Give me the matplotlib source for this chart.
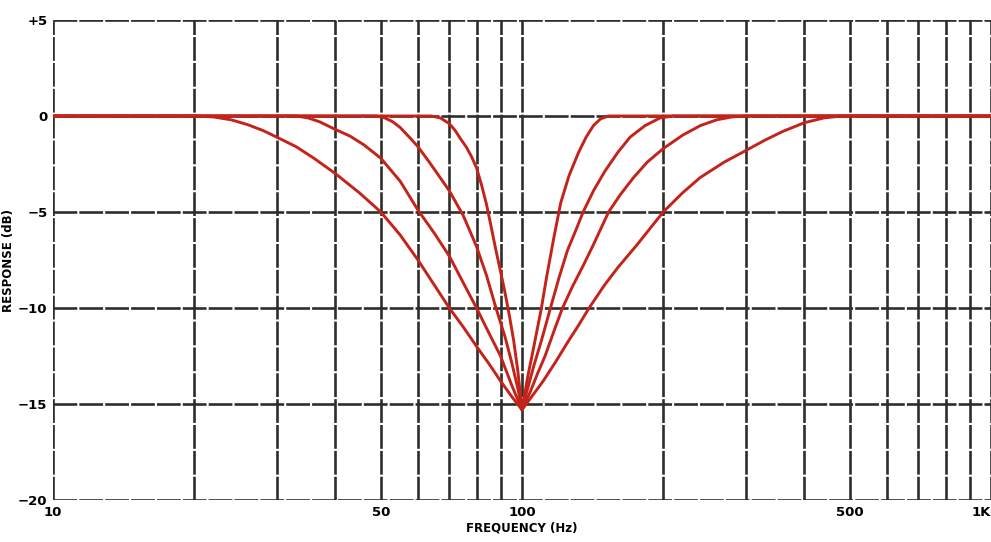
import numpy as np
import matplotlib
matplotlib.use('Agg')
import matplotlib.pyplot as plt
from matplotlib.ticker import FixedLocator, NullFormatter

# -- data (frequency in Hz, response in dB) -- #
# widest notch
f_A = [10, 20, 22, 24, 26, 28, 30, 33, 36, 40, 45, 50, 55, 60, 65, 70, 75, 80, 85, 90, 95, 100,
       105, 111, 118, 125, 132, 139, 150, 160, 176, 200, 220, 240, 270, 300, 330, 360, 400, 440, 480, 1000]
dB_A = [0, 0, -0.05, -0.2, -0.45, -0.75, -1.1, -1.6, -2.2, -3.0, -4.0, -5.0, -6.2, -7.5, -8.8, -10.0,
        -11.0, -12.0, -12.9, -13.8, -14.6, -15.3,
        -14.6, -13.8, -12.8, -11.8, -10.9, -10.0, -8.8, -7.9, -6.7, -5.0, -4.0, -3.2, -2.4, -1.8,
        -1.25, -0.8, -0.35, -0.1, 0, 0]

f_B = [10, 33, 35, 37, 40, 43, 46, 50, 55, 60, 65, 70, 75, 80, 85, 90, 95, 100,
       104, 108, 112, 117, 122, 128, 135, 142, 153, 162, 173, 185, 200, 220, 240, 260, 280, 300, 1000]
dB_B = [0, 0, -0.1, -0.3, -0.7, -1.05, -1.5, -2.2, -3.4, -4.9, -6.1, -7.3, -8.7, -10.0, -11.3, -12.5,
        -14.0, -15.3,
        -14.4, -13.4, -12.5, -11.2, -10.0, -8.9, -7.8, -6.7, -5.0, -4.1, -3.2, -2.4, -1.7, -1.0, -0.5,
        -0.2, -0.05, 0, 0]

f_C = [10, 49, 51, 53, 55, 58, 60, 63, 66, 70, 75, 80, 84, 88, 92, 95, 98, 100,
       102, 106, 110, 115, 120, 125, 130, 135, 142, 150, 160, 170, 183, 197, 210, 1000]
dB_C = [0, 0, -0.1, -0.3, -0.6, -1.2, -1.6, -2.3, -3.0, -3.9, -5.2, -6.8, -8.3, -10.0, -11.5, -12.8,
        -14.2, -15.3,
        -14.5, -13.0, -11.7, -10.0, -8.4, -7.0, -6.0, -5.0, -3.9, -2.9, -1.9, -1.1, -0.5, -0.1, 0, 0]

# narrowest notch
f_D = [10, 64, 67, 70, 72, 74, 76, 78, 80, 82, 84, 86, 88, 90, 92, 94, 96, 98, 100,
       103, 106, 110, 113, 117, 121, 126, 132, 137, 142, 147, 153, 1000]
dB_D = [0, 0, -0.1, -0.4, -0.75, -1.2, -1.6, -2.1, -2.7, -3.6, -4.6, -5.8, -7.0, -8.1, -9.2, -10.4,
        -11.7, -13.3, -15.3,
        -13.5, -12.0, -10.0, -8.3, -6.3, -4.5, -3.1, -1.9, -1.1, -0.5, -0.15, 0, 0]

curves = [(f_A, dB_A), (f_B, dB_B), (f_C, dB_C), (f_D, dB_D)]

# grid / tick positions
vgrid = [10, 20, 30, 40, 50, 60, 70, 80, 90, 100, 200, 300, 400, 500, 600, 700, 800, 900, 1000]
xticks = [10, 50, 100, 500, 1000]
xlabels = ['10', '50', '100', '500', '1K']
yticks = [5, 0, -5, -10, -15, -20]
ylabels = ['+5', '0', '\u22125', '\u221210', '\u221215', '\u221220']

red = '#c4231b'
gridc = '#2e2e2a'

fig = plt.figure(figsize=(9.91, 5.42), dpi=100)
ax = fig.add_axes([53/991, 1-500/542, 1-53/991, (500-20)/542])

ax.set_xscale('log')
ax.set_xlim(10, 1000)
ax.set_ylim(-20, 5)

# grid drawn like the printed chart paper
for v in vgrid:
    ax.axvline(v, color=gridc, lw=1.9, dashes=(9, 0.8), zorder=1)
for h in yticks:
    ax.axhline(h, color=gridc, lw=1.9, dashes=(9, 0.8), zorder=1)

for f, d in curves:
    ax.plot(f, d, color=red, lw=2.1, solid_joinstyle='round', solid_capstyle='round', zorder=3)

ax.xaxis.set_major_locator(FixedLocator(xticks))
ax.xaxis.set_minor_locator(FixedLocator([]))
ax.xaxis.set_minor_formatter(NullFormatter())
ax.set_xticklabels(xlabels)
ax.set_yticks(yticks)
ax.set_yticklabels(ylabels)
ax.tick_params(length=0, labelsize=9.5, pad=4)
for t in ax.get_xticklabels() + ax.get_yticklabels():
    t.set_fontweight('bold')
ax.get_xticklabels()[-1].set_horizontalalignment('right')

for s in ax.spines.values():
    s.set_visible(False)

ax.set_xlabel('FREQUENCY (Hz)', fontsize=8.5, fontweight='bold', labelpad=2)
ax.set_ylabel('RESPONSE (dB)', fontsize=8.5, fontweight='bold', labelpad=2)

plt.savefig('out.png', dpi=100)
plt.close('all')
